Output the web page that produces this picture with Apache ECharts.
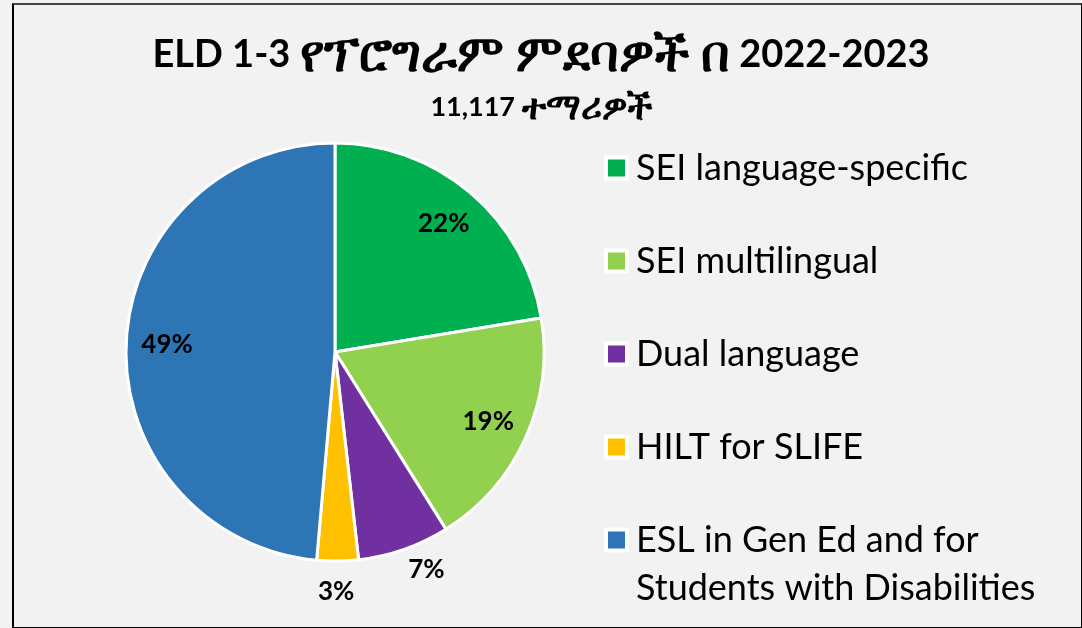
<!DOCTYPE html>
<html>
<head>
<meta charset="utf-8">
<script src="https://cdn.jsdelivr.net/npm/echarts@6/dist/echarts.min.js"></script>
<style>
  html, body { margin: 0; padding: 0; background: #F2F2F2; }
  #chart { width: 1082px; height: 628px; }
  #frame { position: absolute; left: 12px; top: 3px; width: 1067px; height: 622px;
           border: 2px solid #000; border-top-color: #444; pointer-events: none; }
</style>
</head>
<body>
<div id="chart"></div>
<div id="frame"></div>
<script>
// ELD 1-3 program placement pie

const TITLE_EN_1 = 'ELD 1-3';
const TITLE_AM = 'የፕሮግራም ምደባዎች በ';
const TITLE_EN_2 = '2022-2023';
const SUB_NUM = '11,117';
const SUB_AM = 'ተማሪዎች';
const CATEGORIES = ['SEI language-specific', 'SEI multilingual', 'Dual language', 'HILT for SLIFE',
  'ESL in Gen Ed and for Students with Disabilities'];
const SHARES = [22.4, 18.7, 7.1, 3.2, 48.6];

const PALETTE = ['#00B050', '#92D050', '#7030A0', '#FFC000', '#2E75B6'];
const FONT = 'Lato, "Noto Sans", "DejaVu Sans", sans-serif';
const CENTER = [335, 352];
const R = 209;

// small slices get their label outside, lengths tuned per slice
const OUTSIDE = {
  2: { len: 22, dist: -3 },
  3: { len: 31, dist: -20 },
};

const data = CATEGORIES.map((name, i) => ({ name, value: SHARES[i] }));

const labelData = data.map((d, i) => {
  const o = OUTSIDE[i];
  if (!o) return { ...d };
  return {
    ...d,
    label: { position: 'outside', distanceToLabelLine: o.dist },
    labelLine: { show: false, length: o.len, length2: 0 },
  };
});

const LEGEND = {
  orient: 'vertical',
  left: 599,
  itemWidth: 21, itemHeight: 21,
  icon: 'rect',
  itemStyle: { borderColor: '#fff', borderWidth: 4 },
  selectedMode: false,
};
const legendText = lh => ({
  fontFamily: FONT, fontSize: 36, color: '#000', lineHeight: lh,
  rich: { t: { fontFamily: FONT, fontSize: 36, color: '#000', lineHeight: lh, padding: [0, 0, 0, 4] } },
});

const c = echarts.init(document.getElementById('chart'), null, { renderer: 'canvas' });
c.setOption({
  animation: false,
  backgroundColor: '#F2F2F2',
  color: PALETTE,
  textStyle: { fontFamily: FONT },
  title: [
    {
      text: `{en|${TITLE_EN_1} }{am|${TITLE_AM}}{en| ${TITLE_EN_2}}`,
      left: 'center', top: 25,
      textStyle: {
        rich: {
          en: { fontFamily: FONT, fontSize: 38, fontWeight: 'bold', color: '#000' },
          am: { fontFamily: FONT, fontSize: 50, fontWeight: 'bold', color: '#000' },
        },
      },
    },
    {
      text: `{en|${SUB_NUM} }{am|${SUB_AM}}`,
      left: 'center', top: 84,
      textStyle: {
        rich: {
          en: { fontFamily: FONT, fontSize: 27, fontWeight: 'bold', color: '#000' },
          am: { fontFamily: FONT, fontSize: 36, fontWeight: 'bold', color: '#000' },
        },
      },
    },
  ],
  legend: [
    {
      ...LEGEND,
      data: CATEGORIES.slice(0, 4),
      top: 145, itemGap: 57,
      formatter: n => `{t|${n}}`,
      textStyle: legendText(36),
    },
    {
      ...LEGEND,
      data: CATEGORIES.slice(4),
      top: 463,
      // leading blank line keeps the icon level with the first text line
      formatter: n => '{t| }\n' + n.split(' Students').map((s, i) => `{t|${i ? 'Students' + s : s}}`).join('\n'),
      textStyle: legendText(48),
    },
  ],
  series: [
    {
      type: 'pie',
      center: CENTER,
      radius: R,
      startAngle: 90,
      clockwise: true,
      label: { show: false },
      labelLine: { show: false },
      itemStyle: { borderColor: '#fff', borderWidth: 3 },
      emphasis: { disabled: true },
      data,
    },
    {
      // transparent ring used only to place the percentage labels
      type: 'pie',
      center: CENTER,
      radius: [R * 0.58, R],
      startAngle: 90,
      clockwise: true,
      silent: true,
      avoidLabelOverlap: false,
      itemStyle: { color: 'transparent', borderWidth: 0 },
      label: {
        show: true,
        position: 'inside',
        fontFamily: FONT, fontSize: 26, fontWeight: 'bold', color: '#000',
        formatter: p => Math.round(p.percent) + '%',
      },
      labelLine: { show: false },
      emphasis: { disabled: true },
      data: labelData,
    },
  ],
});
</script>
</body>
</html>
